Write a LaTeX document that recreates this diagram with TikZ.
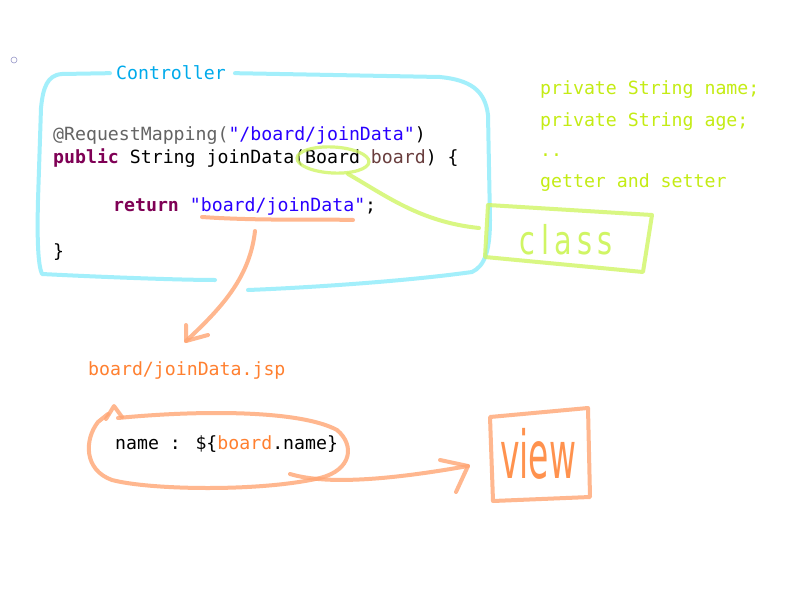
\documentclass[tikz,border=0pt]{standalone}
\usepackage{fontspec}
\usetikzlibrary{shapes.geometric}
\newfontfamily\codefont{DejaVu Sans Mono}
\newfontfamily\handfont{DejaVu Sans}
\definecolor{cyanpen}{RGB}{140,236,250}
\definecolor{ctrlblue}{RGB}{0,170,235}
\definecolor{limepen}{RGB}{208,245,100}
\definecolor{limetext}{RGB}{196,236,20}
\definecolor{orangepen}{RGB}{255,165,115}
\definecolor{orangetext}{RGB}{255,128,48}
\definecolor{annot}{RGB}{100,100,100}
\definecolor{strblue}{RGB}{42,0,255}
\definecolor{kwpurple}{RGB}{127,0,85}
\definecolor{varbrown}{RGB}{106,62,62}
\begin{document}
\begin{tikzpicture}[x=1pt,y=-1pt,
  codetext/.style={anchor=base west, inner sep=0pt, font=\codefont\fontsize{18.2}{22}\selectfont},
  pen/.style={line width=4pt, line cap=round, line join=round, opacity=0.8},
  cpen/.style={pen, draw=cyanpen},
  gpen/.style={pen, draw=limepen},
  opn/.style={pen, draw=orangepen}]
\useasboundingbox[fill=white] (0,0) rectangle (802,596);

% small bullet
\node[circle, draw={rgb,255:red,150;green,150;blue,200}, line width=0.6pt, minimum size=6pt, inner sep=0pt] (dot) at (14,60) {};

% controller frame
\node[codetext, text=ctrlblue] (ctrl) at (116,80) {Controller};
\draw[cpen] (ctrl.west) ++(-6,0) -- (62,74) .. controls (47,75) and (43,88) .. (41,108) -- (38,200) .. controls (37,240) and (38,265) .. (42,274) .. controls (100,277) and (180,280) .. (215,280);
\draw[cpen] (ctrl.east) ++(9,0) -- (440,77) .. controls (470,80) and (485,90) .. (488,115) -- (490,220) .. controls (490,250) and (485,266) .. (472,272) .. controls (400,282) and (300,288) .. (248,290);

% code
\node[codetext] (l1) at (53,141) {\textcolor{annot}{@RequestMapping(}\textcolor{strblue}{"/board/joinData"})};
\node[codetext] (l2) at (53,164) {\textcolor{kwpurple}{\bfseries public} String joinData(Board \textcolor{varbrown}{board}) \{};
\node[codetext] (l3) at (113,211) {\textcolor{kwpurple}{\bfseries return} \textcolor{strblue}{"board/joinData"};};
\node[codetext] (l4) at (53,257) {\}};

% class fields
\node[codetext, text=limetext] (f1) at (540,95) {private String name;};
\node[codetext, text=limetext] (f2) at (540,127) {private String age;};
\node[codetext, text=limetext] (f3) at (540,157) {..};
\node[codetext, text=limetext] (f4) at (540,187) {getter and setter};

% Board mark and class box
\node[ellipse, draw=limepen, line width=3.2pt, opacity=0.8, minimum width=72pt, minimum height=26pt, rotate=-3] (bmark) at (333,160) {};
\node[inner sep=0pt, text=limepen, font=\handfont\fontsize{36}{40}\selectfont] (cls) at (566,240) {\scalebox{0.8}[1.1]{c\kern7pt l\kern7pt a\kern6pt s\kern6pt s}};
\coordinate (clsL) at (479,228);
\draw[gpen] (bmark.-40) .. controls (385,195) and (420,222) .. (clsL);
\draw[gpen] (488,205) -- (652,215) -- (643,272) -- (485,257) -- cycle;

% return -> jsp
\coordinate (ulA) at (202,217);
\coordinate (ulB) at (353,220);
\draw[opn] (ulA) .. controls (260,221) and (320,219) .. (ulB);
\coordinate (ul) at (255,231);
\coordinate (tip) at (186,341);
\draw[opn] (ul) .. controls (250,275) and (225,305) .. (tip);
\draw[opn] (186,325) -- (tip) -- (208,335);

\node[codetext, text=orangetext] (jsp) at (88,375) {board/joinData.jsp};

% expression and loop
\node[codetext] (expr) at (115,449) {name : \$\{\textcolor{orangetext}{board}.name\}};
\draw[opn] (118,418) .. controls (200,410) and (300,410) .. (337,430) .. controls (355,445) and (352,470) .. (320,478) .. controls (260,492) and (150,490) .. (112,480) .. controls (84,470) and (84,440) .. (98,422) -- (108,414);
\draw[opn] (106,419) -- (114,406) -- (122,417);

% arrow to view
\coordinate (loopB) at (290,474);
\coordinate (vw) at (468,466);
\draw[opn] (loopB) .. controls (330,486) and (400,478) .. (vw);
\draw[opn] (440,460) -- (vw) -- (456,492);

% view box
\draw[opn] (490,417) -- (588,408) -- (590,497) -- (493,501) -- cycle;
\node[inner sep=0pt, text=orangetext, opacity=0.85, font=\handfont\fontsize{66}{70}\selectfont] (view) at (538,454) {\scalebox{0.5}[1]{view}};
\end{tikzpicture}
\end{document}
